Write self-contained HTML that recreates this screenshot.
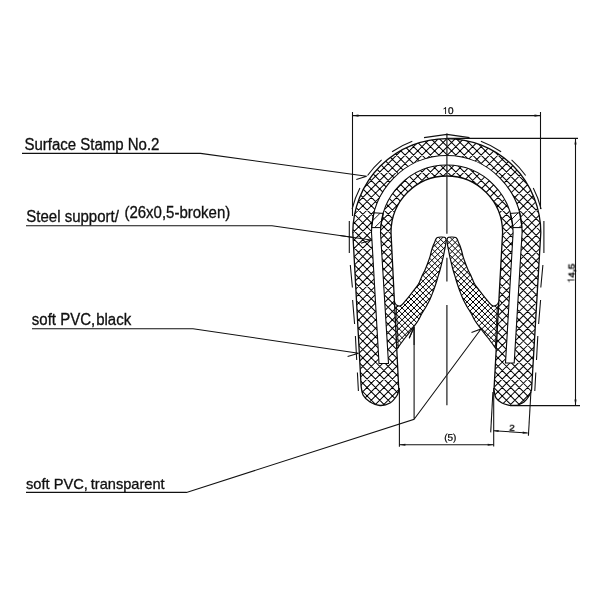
<!DOCTYPE html>
<html><head><meta charset="utf-8"><title>Edge trim profile</title>
<style>
html,body{margin:0;padding:0;background:#fff;}
body{width:600px;height:600px;overflow:hidden;font-family:"Liberation Sans",sans-serif;}
svg{display:block;}
</style></head><body>
<svg width="600" height="600" viewBox="0 0 600 600">
<defs>
<clipPath id="cpB"><path d="M352.8 232.5 A94 94 0 0 1 540.8 232.5 L531.8 386 L531.5 390 C531.08 391 530.25 394 529 396 C527.75 398 526 400.42 524 402 C522 403.58 518.17 404.92 517 405.5 L510 405.5 C508.67 405.08 504.33 404.25 502 403 C499.67 401.75 497.33 400.17 496 398 C494.67 395.83 494.33 391.33 494 390 L502.6 232.5 A55.8 56.5 0 0 0 391 232.5 L398.8 390 C398.5 390.92 398.47 393.33 397 395.5 C395.53 397.67 392.83 401.33 390 403 C387.17 404.67 383.33 405.67 380 405.5 C376.67 405.33 372.83 403.75 370 402 C367.17 400.25 364.48 397.67 363 395 C361.52 392.33 361.42 387.5 361.1 386 Z" clip-rule="nonzero"/></clipPath>
<clipPath id="cpL"><path d="M394.4 301.5 C394.53 301.83 394.78 302.88 395.2 303.5 C395.62 304.12 396.22 304.77 396.9 305.2 C397.58 305.63 398.55 306.1 399.3 306.1 C400.05 306.1 400.73 305.67 401.4 305.2 C402.07 304.73 402.32 304.38 403.3 303.3 C404.28 302.22 405.85 300.47 407.3 298.7 C408.75 296.93 410.43 294.7 412 292.7 C413.57 290.7 415.48 288.4 416.7 286.7 C417.92 285 418.47 284.17 419.3 282.5 C420.13 280.83 420.75 278.78 421.7 276.7 C422.65 274.62 424 272.23 425 270 C426 267.77 426.87 265.52 427.7 263.3 C428.53 261.08 429.33 258.92 430 256.7 C430.67 254.48 431.13 251.95 431.7 250 C432.27 248.05 432.87 246.38 433.4 245 C433.93 243.62 434.52 242.62 434.9 241.7 C435.28 240.78 435.3 240.2 435.7 239.5 C436.1 238.8 436.42 237.92 437.3 237.5 C438.18 237.08 439.8 237.03 441 237 C442.2 236.97 443.7 237.03 444.5 237.3 C445.3 237.57 445.53 237.98 445.8 238.6 C446.07 239.22 446.05 240.6 446.1 241 C445.98 241.83 445.65 244.5 445.4 246 C445.15 247.5 444.95 248.22 444.6 250 C444.25 251.78 443.78 254.48 443.3 256.7 C442.82 258.92 442.25 261.08 441.7 263.3 C441.15 265.52 440.62 267.77 440 270 C439.38 272.23 438.67 274.48 438 276.7 C437.33 278.92 436.75 281 436 283.3 C435.25 285.6 434.5 287.83 433.5 290.5 C432.5 293.17 431.25 296.6 430 299.3 C428.75 302 427.33 304.37 426 306.7 C424.67 309.03 423.25 311.08 422 313.3 C420.75 315.52 419.83 317.8 418.5 320 C417.17 322.2 416.25 323.5 414 326.5 C411.75 329.5 407.87 334.25 405 338 C402.13 341.75 398.17 347.17 396.8 349 Z"/></clipPath>
<clipPath id="cpR"><path d="M498.7 301.5 C498.57 301.83 498.32 302.88 497.9 303.5 C497.48 304.12 496.88 304.77 496.2 305.2 C495.52 305.63 494.55 306.1 493.8 306.1 C493.05 306.1 492.37 305.67 491.7 305.2 C491.03 304.73 490.78 304.38 489.8 303.3 C488.82 302.22 487.25 300.47 485.8 298.7 C484.35 296.93 482.67 294.7 481.1 292.7 C479.53 290.7 477.62 288.4 476.4 286.7 C475.18 285 474.63 284.17 473.8 282.5 C472.97 280.83 472.35 278.78 471.4 276.7 C470.45 274.62 469.1 272.23 468.1 270 C467.1 267.77 466.23 265.52 465.4 263.3 C464.57 261.08 463.77 258.92 463.1 256.7 C462.43 254.48 461.97 251.95 461.4 250 C460.83 248.05 460.23 246.38 459.7 245 C459.17 243.62 458.58 242.62 458.2 241.7 C457.82 240.78 457.8 240.2 457.4 239.5 C457 238.8 456.68 237.92 455.8 237.5 C454.92 237.08 453.3 237.03 452.1 237 C450.9 236.97 449.4 237.03 448.6 237.3 C447.8 237.57 447.57 237.98 447.3 238.6 C447.03 239.22 447.05 240.6 447 241 C447.12 241.83 447.45 244.5 447.7 246 C447.95 247.5 448.15 248.22 448.5 250 C448.85 251.78 449.32 254.48 449.8 256.7 C450.28 258.92 450.85 261.08 451.4 263.3 C451.95 265.52 452.48 267.77 453.1 270 C453.72 272.23 454.43 274.48 455.1 276.7 C455.77 278.92 456.35 281 457.1 283.3 C457.85 285.6 458.6 287.83 459.6 290.5 C460.6 293.17 461.85 296.6 463.1 299.3 C464.35 302 465.77 304.37 467.1 306.7 C468.43 309.03 469.85 311.08 471.1 313.3 C472.35 315.52 473.27 317.8 474.6 320 C475.93 322.2 476.85 323.5 479.1 326.5 C481.35 329.5 485.23 334.25 488.1 338 C490.97 341.75 494.93 347.17 496.3 349 Z"/></clipPath>
<clipPath id="cbL"><path d="M374.01 212.8 L383.39 213.4 L380.67 227.6 L371.65 227.6 Z"/></clipPath>
<clipPath id="cbR"><path d="M519.59 212.8 L510.21 213.4 L512.93 227.6 L521.95 227.6 Z"/></clipPath>
</defs>
<rect width="600" height="600" fill="#fff"/>
<g fill="none" stroke="#111" stroke-width="1.08" stroke-linecap="butt">
<path d="M352.5 112 V216"/>
<path d="M540.5 112 V209"/>
<path d="M352.5 115.6 H540.5"/>
<path d="M447 138.4 H578"/>
<path d="M575.5 138.4 V405.6"/>
<path d="M517 405.6 H580"/>
<path d="M399.4 388 V446.8"/>
<path d="M493.7 388 V446.4"/>
<path d="M399.4 444.7 H493.7"/>
<path d="M492.9 392 L490.7 432.4"/>
<path d="M530.9 392 L528.4 435.8"/>
<path d="M493.6 430.7 L527.7 433"/>
<path d="M22 153.4 H200.5 L366.7 176.3 L356.3 179.4"/>
<path d="M26 225.8 H272 L371 240 L361 243.2"/>
<path d="M32 328.7 H193 L358.6 353.3 L347.6 356.6"/>
<path d="M26 492.4 H186.5 L414.1 419.3 V327 L409.2 338.3 M414.1 419.3 L481 329 L471.5 332.6"/>
</g>
<path d="M352.5 115.6 L358.5 114.55 L358.5 116.65 Z" fill="#111" stroke="none"/>
<path d="M540.5 115.6 L534.5 116.65 L534.5 114.55 Z" fill="#111" stroke="none"/>
<path d="M575.5 138.4 L576.55 144.4 L574.45 144.4 Z" fill="#111" stroke="none"/>
<path d="M575.5 405.6 L574.45 399.6 L576.55 399.6 Z" fill="#111" stroke="none"/>
<path d="M399.4 444.7 L405.4 443.65 L405.4 445.75 Z" fill="#111" stroke="none"/>
<path d="M493.7 444.7 L487.7 445.75 L487.7 443.65 Z" fill="#111" stroke="none"/>
<path d="M493.6 430.7 L498.66 429.99 L498.52 432.08 Z" fill="#111" stroke="none"/>
<path d="M527.7 433 L522.64 433.71 L522.78 431.62 Z" fill="#111" stroke="none"/>
<path d="M352.8 232.5 A94 94 0 0 1 540.8 232.5 L531.8 386 L531.5 390 C531.08 391 530.25 394 529 396 C527.75 398 526 400.42 524 402 C522 403.58 518.17 404.92 517 405.5 L510 405.5 C508.67 405.08 504.33 404.25 502 403 C499.67 401.75 497.33 400.17 496 398 C494.67 395.83 494.33 391.33 494 390 L502.6 232.5 A55.8 56.5 0 0 0 391 232.5 L398.8 390 C398.5 390.92 398.47 393.33 397 395.5 C395.53 397.67 392.83 401.33 390 403 C387.17 404.67 383.33 405.67 380 405.5 C376.67 405.33 372.83 403.75 370 402 C367.17 400.25 364.48 397.67 363 395 C361.52 392.33 361.42 387.5 361.1 386 Z" fill="#fff" stroke="none"/>
<g clip-path="url(#cpB)"><path d="M76.15 408 L348.15 136 M84.6 408 L356.6 136 M93.05 408 L365.05 136 M101.5 408 L373.5 136 M109.95 408 L381.95 136 M118.4 408 L390.4 136 M126.85 408 L398.85 136 M135.3 408 L407.3 136 M143.75 408 L415.75 136 M152.2 408 L424.2 136 M160.65 408 L432.65 136 M169.1 408 L441.1 136 M177.55 408 L449.55 136 M186 408 L458 136 M194.45 408 L466.45 136 M202.9 408 L474.9 136 M211.35 408 L483.35 136 M219.8 408 L491.8 136 M228.25 408 L500.25 136 M236.7 408 L508.7 136 M245.15 408 L517.15 136 M253.6 408 L525.6 136 M262.05 408 L534.05 136 M270.5 408 L542.5 136 M278.95 408 L550.95 136 M287.4 408 L559.4 136 M295.85 408 L567.85 136 M304.3 408 L576.3 136 M312.75 408 L584.75 136 M321.2 408 L593.2 136 M329.65 408 L601.65 136 M338.1 408 L610.1 136 M346.55 408 L618.55 136 M355 408 L627 136 M363.45 408 L635.45 136 M371.9 408 L643.9 136 M380.35 408 L652.35 136 M388.8 408 L660.8 136 M397.25 408 L669.25 136 M405.7 408 L677.7 136 M414.15 408 L686.15 136 M422.6 408 L694.6 136 M431.05 408 L703.05 136 M439.5 408 L711.5 136 M447.95 408 L719.95 136 M456.4 408 L728.4 136 M464.85 408 L736.85 136 M473.3 408 L745.3 136 M481.75 408 L753.75 136 M490.2 408 L762.2 136 M498.65 408 L770.65 136 M507.1 408 L779.1 136 M515.55 408 L787.55 136 M524 408 L796 136 M532.45 408 L804.45 136 M540.9 408 L812.9 136 M549.35 408 L821.35 136 M73.32 136 L345.32 408 M81.77 136 L353.77 408 M90.22 136 L362.22 408 M98.67 136 L370.67 408 M107.12 136 L379.12 408 M115.57 136 L387.57 408 M124.02 136 L396.02 408 M132.47 136 L404.47 408 M140.92 136 L412.92 408 M149.37 136 L421.37 408 M157.82 136 L429.82 408 M166.27 136 L438.27 408 M174.72 136 L446.72 408 M183.17 136 L455.17 408 M191.62 136 L463.62 408 M200.07 136 L472.07 408 M208.52 136 L480.52 408 M216.97 136 L488.97 408 M225.42 136 L497.42 408 M233.87 136 L505.87 408 M242.32 136 L514.32 408 M250.77 136 L522.77 408 M259.22 136 L531.22 408 M267.67 136 L539.67 408 M276.12 136 L548.12 408 M284.57 136 L556.57 408 M293.02 136 L565.02 408 M301.47 136 L573.47 408 M309.92 136 L581.92 408 M318.37 136 L590.37 408 M326.82 136 L598.82 408 M335.27 136 L607.27 408 M343.72 136 L615.72 408 M352.17 136 L624.17 408 M360.62 136 L632.62 408 M369.07 136 L641.07 408 M377.52 136 L649.52 408 M385.97 136 L657.97 408 M394.42 136 L666.42 408 M402.87 136 L674.87 408 M411.32 136 L683.32 408 M419.77 136 L691.77 408 M428.22 136 L700.22 408 M436.67 136 L708.67 408 M445.12 136 L717.12 408 M453.57 136 L725.57 408 M462.02 136 L734.02 408 M470.47 136 L742.47 408 M478.92 136 L750.92 408 M487.37 136 L759.37 408 M495.82 136 L767.82 408 M504.27 136 L776.27 408 M512.72 136 L784.72 408 M521.17 136 L793.17 408 M529.62 136 L801.62 408 M538.07 136 L810.07 408 M546.52 136 L818.52 408" fill="none" stroke="#000" stroke-width="1.02"/></g>
<path d="M379 363.5 L371.5 232.5 A75.3 77 0 0 1 522.1 232.5 L514.2 363 L505.5 363 L513.1 232.5 A66.3 67.5 0 0 0 380.5 232.5 L388.5 363.5 Z" fill="#fff" stroke="#0a0a0a" stroke-width="1.1" stroke-linejoin="round"/>
<g clip-path="url(#cbL)"><path d="M345.5 230 L365.5 210 M354.4 230 L374.4 210 M363.3 230 L383.3 210 M372.2 230 L392.2 210 M381.1 230 L401.1 210 M390 230 L410 210" fill="none" stroke="#000" stroke-width="0.9"/></g>
<g clip-path="url(#cbR)"><path d="M485.4 230 L505.4 210 M493.2 230 L513.2 210 M501 230 L521 210 M508.8 230 L528.8 210 M516.6 230 L536.6 210 M524.4 230 L544.4 210" fill="none" stroke="#000" stroke-width="0.9"/></g>
<path d="M374.01 212.8 L383.39 213.4 L380.67 227.6 L371.65 227.6 Z" fill="none" stroke="#000" stroke-width="1.0"/>
<path d="M519.59 212.8 L510.21 213.4 L512.93 227.6 L521.95 227.6 Z" fill="none" stroke="#000" stroke-width="1.0"/>
<path d="M394.4 301.5 C394.53 301.83 394.78 302.88 395.2 303.5 C395.62 304.12 396.22 304.77 396.9 305.2 C397.58 305.63 398.55 306.1 399.3 306.1 C400.05 306.1 400.73 305.67 401.4 305.2 C402.07 304.73 402.32 304.38 403.3 303.3 C404.28 302.22 405.85 300.47 407.3 298.7 C408.75 296.93 410.43 294.7 412 292.7 C413.57 290.7 415.48 288.4 416.7 286.7 C417.92 285 418.47 284.17 419.3 282.5 C420.13 280.83 420.75 278.78 421.7 276.7 C422.65 274.62 424 272.23 425 270 C426 267.77 426.87 265.52 427.7 263.3 C428.53 261.08 429.33 258.92 430 256.7 C430.67 254.48 431.13 251.95 431.7 250 C432.27 248.05 432.87 246.38 433.4 245 C433.93 243.62 434.52 242.62 434.9 241.7 C435.28 240.78 435.3 240.2 435.7 239.5 C436.1 238.8 436.42 237.92 437.3 237.5 C438.18 237.08 439.8 237.03 441 237 C442.2 236.97 443.7 237.03 444.5 237.3 C445.3 237.57 445.53 237.98 445.8 238.6 C446.07 239.22 446.05 240.6 446.1 241 C445.98 241.83 445.65 244.5 445.4 246 C445.15 247.5 444.95 248.22 444.6 250 C444.25 251.78 443.78 254.48 443.3 256.7 C442.82 258.92 442.25 261.08 441.7 263.3 C441.15 265.52 440.62 267.77 440 270 C439.38 272.23 438.67 274.48 438 276.7 C437.33 278.92 436.75 281 436 283.3 C435.25 285.6 434.5 287.83 433.5 290.5 C432.5 293.17 431.25 296.6 430 299.3 C428.75 302 427.33 304.37 426 306.7 C424.67 309.03 423.25 311.08 422 313.3 C420.75 315.52 419.83 317.8 418.5 320 C417.17 322.2 416.25 323.5 414 326.5 C411.75 329.5 407.87 334.25 405 338 C402.13 341.75 398.17 347.17 396.8 349 Z" fill="#fff" stroke="none"/>
<path d="M498.7 301.5 C498.57 301.83 498.32 302.88 497.9 303.5 C497.48 304.12 496.88 304.77 496.2 305.2 C495.52 305.63 494.55 306.1 493.8 306.1 C493.05 306.1 492.37 305.67 491.7 305.2 C491.03 304.73 490.78 304.38 489.8 303.3 C488.82 302.22 487.25 300.47 485.8 298.7 C484.35 296.93 482.67 294.7 481.1 292.7 C479.53 290.7 477.62 288.4 476.4 286.7 C475.18 285 474.63 284.17 473.8 282.5 C472.97 280.83 472.35 278.78 471.4 276.7 C470.45 274.62 469.1 272.23 468.1 270 C467.1 267.77 466.23 265.52 465.4 263.3 C464.57 261.08 463.77 258.92 463.1 256.7 C462.43 254.48 461.97 251.95 461.4 250 C460.83 248.05 460.23 246.38 459.7 245 C459.17 243.62 458.58 242.62 458.2 241.7 C457.82 240.78 457.8 240.2 457.4 239.5 C457 238.8 456.68 237.92 455.8 237.5 C454.92 237.08 453.3 237.03 452.1 237 C450.9 236.97 449.4 237.03 448.6 237.3 C447.8 237.57 447.57 237.98 447.3 238.6 C447.03 239.22 447.05 240.6 447 241 C447.12 241.83 447.45 244.5 447.7 246 C447.95 247.5 448.15 248.22 448.5 250 C448.85 251.78 449.32 254.48 449.8 256.7 C450.28 258.92 450.85 261.08 451.4 263.3 C451.95 265.52 452.48 267.77 453.1 270 C453.72 272.23 454.43 274.48 455.1 276.7 C455.77 278.92 456.35 281 457.1 283.3 C457.85 285.6 458.6 287.83 459.6 290.5 C460.6 293.17 461.85 296.6 463.1 299.3 C464.35 302 465.77 304.37 467.1 306.7 C468.43 309.03 469.85 311.08 471.1 313.3 C472.35 315.52 473.27 317.8 474.6 320 C475.93 322.2 476.85 323.5 479.1 326.5 C481.35 329.5 485.23 334.25 488.1 338 C490.97 341.75 494.93 347.17 496.3 349 Z" fill="#fff" stroke="none"/>
<g clip-path="url(#cpL)"><path d="M274.7 352 L391.7 235 M280.65 352 L397.65 235 M286.6 352 L403.6 235 M292.55 352 L409.55 235 M298.5 352 L415.5 235 M304.45 352 L421.45 235 M310.4 352 L427.4 235 M316.35 352 L433.35 235 M322.3 352 L439.3 235 M328.25 352 L445.25 235 M334.2 352 L451.2 235 M340.15 352 L457.15 235 M346.1 352 L463.1 235 M352.05 352 L469.05 235 M358 352 L475 235 M363.95 352 L480.95 235 M369.9 352 L486.9 235 M375.85 352 L492.85 235 M381.8 352 L498.8 235 M387.75 352 L504.75 235 M393.7 352 L510.7 235 M399.65 352 L516.65 235 M405.6 352 L522.6 235 M411.55 352 L528.55 235 M417.5 352 L534.5 235 M423.45 352 L540.45 235 M429.4 352 L546.4 235 M435.35 352 L552.35 235 M441.3 352 L558.3 235 M447.25 352 L564.25 235 M453.2 352 L570.2 235 M269.6 235 L386.6 352 M275.55 235 L392.55 352 M281.5 235 L398.5 352 M287.45 235 L404.45 352 M293.4 235 L410.4 352 M299.35 235 L416.35 352 M305.3 235 L422.3 352 M311.25 235 L428.25 352 M317.2 235 L434.2 352 M323.15 235 L440.15 352 M329.1 235 L446.1 352 M335.05 235 L452.05 352 M341 235 L458 352 M346.95 235 L463.95 352 M352.9 235 L469.9 352 M358.85 235 L475.85 352 M364.8 235 L481.8 352 M370.75 235 L487.75 352 M376.7 235 L493.7 352 M382.65 235 L499.65 352 M388.6 235 L505.6 352 M394.55 235 L511.55 352 M400.5 235 L517.5 352 M406.45 235 L523.45 352 M412.4 235 L529.4 352 M418.35 235 L535.35 352 M424.3 235 L541.3 352 M430.25 235 L547.25 352 M436.2 235 L553.2 352 M442.15 235 L559.15 352 M448.1 235 L565.1 352" fill="none" stroke="#000" stroke-width="1.0"/></g>
<g clip-path="url(#cpR)"><path d="M327.8 352 L444.8 235 M333.75 352 L450.75 235 M339.7 352 L456.7 235 M345.65 352 L462.65 235 M351.6 352 L468.6 235 M357.55 352 L474.55 235 M363.5 352 L480.5 235 M369.45 352 L486.45 235 M375.4 352 L492.4 235 M381.35 352 L498.35 235 M387.3 352 L504.3 235 M393.25 352 L510.25 235 M399.2 352 L516.2 235 M405.15 352 L522.15 235 M411.1 352 L528.1 235 M417.05 352 L534.05 235 M423 352 L540 235 M428.95 352 L545.95 235 M434.9 352 L551.9 235 M440.85 352 L557.85 235 M446.8 352 L563.8 235 M452.75 352 L569.75 235 M458.7 352 L575.7 235 M464.65 352 L581.65 235 M470.6 352 L587.6 235 M476.55 352 L593.55 235 M482.5 352 L599.5 235 M488.45 352 L605.45 235 M494.4 352 L611.4 235 M500.35 352 L617.35 235 M506.3 352 L623.3 235 M328.65 235 L445.65 352 M334.6 235 L451.6 352 M340.55 235 L457.55 352 M346.5 235 L463.5 352 M352.45 235 L469.45 352 M358.4 235 L475.4 352 M364.35 235 L481.35 352 M370.3 235 L487.3 352 M376.25 235 L493.25 352 M382.2 235 L499.2 352 M388.15 235 L505.15 352 M394.1 235 L511.1 352 M400.05 235 L517.05 352 M406 235 L523 352 M411.95 235 L528.95 352 M417.9 235 L534.9 352 M423.85 235 L540.85 352 M429.8 235 L546.8 352 M435.75 235 L552.75 352 M441.7 235 L558.7 352 M447.65 235 L564.65 352 M453.6 235 L570.6 352 M459.55 235 L576.55 352 M465.5 235 L582.5 352 M471.45 235 L588.45 352 M477.4 235 L594.4 352 M483.35 235 L600.35 352 M489.3 235 L606.3 352 M495.25 235 L612.25 352 M501.2 235 L618.2 352 M507.15 235 L624.15 352" fill="none" stroke="#000" stroke-width="1.0"/></g>
<path d="M394.4 301.5 C394.53 301.83 394.78 302.88 395.2 303.5 C395.62 304.12 396.22 304.77 396.9 305.2 C397.58 305.63 398.55 306.1 399.3 306.1 C400.05 306.1 400.73 305.67 401.4 305.2 C402.07 304.73 402.32 304.38 403.3 303.3 C404.28 302.22 405.85 300.47 407.3 298.7 C408.75 296.93 410.43 294.7 412 292.7 C413.57 290.7 415.48 288.4 416.7 286.7 C417.92 285 418.47 284.17 419.3 282.5 C420.13 280.83 420.75 278.78 421.7 276.7 C422.65 274.62 424 272.23 425 270 C426 267.77 426.87 265.52 427.7 263.3 C428.53 261.08 429.33 258.92 430 256.7 C430.67 254.48 431.13 251.95 431.7 250 C432.27 248.05 432.87 246.38 433.4 245 C433.93 243.62 434.52 242.62 434.9 241.7 C435.28 240.78 435.3 240.2 435.7 239.5 C436.1 238.8 436.42 237.92 437.3 237.5 C438.18 237.08 439.8 237.03 441 237 C442.2 236.97 443.7 237.03 444.5 237.3 C445.3 237.57 445.53 237.98 445.8 238.6 C446.07 239.22 446.05 240.6 446.1 241 C445.98 241.83 445.65 244.5 445.4 246 C445.15 247.5 444.95 248.22 444.6 250 C444.25 251.78 443.78 254.48 443.3 256.7 C442.82 258.92 442.25 261.08 441.7 263.3 C441.15 265.52 440.62 267.77 440 270 C439.38 272.23 438.67 274.48 438 276.7 C437.33 278.92 436.75 281 436 283.3 C435.25 285.6 434.5 287.83 433.5 290.5 C432.5 293.17 431.25 296.6 430 299.3 C428.75 302 427.33 304.37 426 306.7 C424.67 309.03 423.25 311.08 422 313.3 C420.75 315.52 419.83 317.8 418.5 320 C417.17 322.2 416.25 323.5 414 326.5 C411.75 329.5 407.87 334.25 405 338 C402.13 341.75 398.17 347.17 396.8 349" fill="none" stroke="#0a0a0a" stroke-width="1.2" stroke-linejoin="round"/>
<path d="M498.7 301.5 C498.57 301.83 498.32 302.88 497.9 303.5 C497.48 304.12 496.88 304.77 496.2 305.2 C495.52 305.63 494.55 306.1 493.8 306.1 C493.05 306.1 492.37 305.67 491.7 305.2 C491.03 304.73 490.78 304.38 489.8 303.3 C488.82 302.22 487.25 300.47 485.8 298.7 C484.35 296.93 482.67 294.7 481.1 292.7 C479.53 290.7 477.62 288.4 476.4 286.7 C475.18 285 474.63 284.17 473.8 282.5 C472.97 280.83 472.35 278.78 471.4 276.7 C470.45 274.62 469.1 272.23 468.1 270 C467.1 267.77 466.23 265.52 465.4 263.3 C464.57 261.08 463.77 258.92 463.1 256.7 C462.43 254.48 461.97 251.95 461.4 250 C460.83 248.05 460.23 246.38 459.7 245 C459.17 243.62 458.58 242.62 458.2 241.7 C457.82 240.78 457.8 240.2 457.4 239.5 C457 238.8 456.68 237.92 455.8 237.5 C454.92 237.08 453.3 237.03 452.1 237 C450.9 236.97 449.4 237.03 448.6 237.3 C447.8 237.57 447.57 237.98 447.3 238.6 C447.03 239.22 447.05 240.6 447 241 C447.12 241.83 447.45 244.5 447.7 246 C447.95 247.5 448.15 248.22 448.5 250 C448.85 251.78 449.32 254.48 449.8 256.7 C450.28 258.92 450.85 261.08 451.4 263.3 C451.95 265.52 452.48 267.77 453.1 270 C453.72 272.23 454.43 274.48 455.1 276.7 C455.77 278.92 456.35 281 457.1 283.3 C457.85 285.6 458.6 287.83 459.6 290.5 C460.6 293.17 461.85 296.6 463.1 299.3 C464.35 302 465.77 304.37 467.1 306.7 C468.43 309.03 469.85 311.08 471.1 313.3 C472.35 315.52 473.27 317.8 474.6 320 C475.93 322.2 476.85 323.5 479.1 326.5 C481.35 329.5 485.23 334.25 488.1 338 C490.97 341.75 494.93 347.17 496.3 349" fill="none" stroke="#0a0a0a" stroke-width="1.2" stroke-linejoin="round"/>
<path d="M396.3 305.8 L398.3 348.2 M497.3 305.8 L495.3 348.2" fill="none" stroke="#0a0a0a" stroke-width="0.9"/>
<path d="M352.8 232.5 A94 94 0 0 1 540.8 232.5 L531.8 386 L531.5 390 C531.08 391 530.25 394 529 396 C527.75 398 526 400.42 524 402 C522 403.58 518.17 404.92 517 405.5 L510 405.5 C508.67 405.08 504.33 404.25 502 403 C499.67 401.75 497.33 400.17 496 398 C494.67 395.83 494.33 391.33 494 390 L502.6 232.5 A55.8 56.5 0 0 0 391 232.5 L398.8 390 C398.5 390.92 398.47 393.33 397 395.5 C395.53 397.67 392.83 401.33 390 403 C387.17 404.67 383.33 405.67 380 405.5 C376.67 405.33 372.83 403.75 370 402 C367.17 400.25 364.48 397.67 363 395 C361.52 392.33 361.42 387.5 361.1 386 Z" fill="none" stroke="#0a0a0a" stroke-width="1.3" stroke-linejoin="round"/>
<path d="M446.9 133.5 V233.7 M446.9 257.7 V281.6 M446.9 305 V405.2" fill="none" stroke="#262626" stroke-width="1.25"/>
<g fill="none" stroke="#111" stroke-width="1.08">
<path d="M424 137.6 L447 134.4 L469.5 137.6"/>
<path d="M412.3 141.2 A97.6 97.6 0 0 0 392.08 151.68 M381.62 159.86 A97.6 97.6 0 0 0 367.54 175.55 M359.92 188.04 A97.6 97.6 0 0 0 352.06 209.05 M349.3 221 L349.3 253 M350.3 265 L352.4 287.5 M352.6 300 L354.6 324 M355.4 336 L356.7 360 M357.4 372.5 L358.4 391"/>
<path d="M412.3 141.2 A97.6 97.6 0 0 0 392.08 151.68 M381.62 159.86 A97.6 97.6 0 0 0 367.54 175.55 M359.92 188.04 A97.6 97.6 0 0 0 352.06 209.05 M349.3 221 L349.3 253 M350.3 265 L352.4 287.5 M352.6 300 L354.6 324 M355.4 336 L356.7 360 M357.4 372.5 L358.4 391" transform="translate(893.2 0) scale(-1 1)"/>
</g>
<g fill="none" stroke="#111" stroke-width="1.08">
<path d="M340 235.5 L371 240 L361 243.2"/>
<path d="M414.1 345 V327 L409.2 338.3"/>
</g>
<g font-family="'Liberation Sans', sans-serif" fill="#101010" stroke="#101010" stroke-width="0.3" opacity="0.999">
<text transform="translate(24.4 149.6) scale(1 1.04)" font-size="15">Surface Stamp No.2</text>
<text transform="translate(26.3 221.6) scale(1 1.04)" font-size="15">Steel support/</text>
<text transform="translate(124.4 218.2) scale(1 1.04)" font-size="15">(26x0,5-broken)</text>
<text transform="translate(31.8 325.3) scale(1 1.04)" font-size="15">soft PVC,</text>
<text transform="translate(96.2 325.3) scale(1 1.04)" font-size="15">black</text>
<text transform="translate(25.9 488.6) scale(1 1.04)" font-size="14.7">soft PVC,</text>
<text transform="translate(90.8 488.6) scale(1 1.04)" font-size="14.6">transparent</text>
</g>
<g font-family="'Liberation Sans', sans-serif" fill="#080808" stroke="#080808" stroke-width="0.25" opacity="0.999">
<g transform="translate(447.9 113.9) rotate(0.05) scale(1 0.97)"><path transform="translate(-5.56 0) scale(10 -10)" d="M0.3726 0H0.2847V0.56Q0.2529 0.5298 0.2017 0.4995Q0.1499 0.4692 0.1089 0.4541V0.5391Q0.1826 0.5737 0.2378 0.623Q0.293 0.6724 0.3159 0.7188H0.3726Z" stroke="none"/><text x="0" y="0" font-size="10">0</text></g>
<g transform="translate(450.3 440.8) rotate(0.05) scale(1 0.97)"><text x="-6.11" y="0" font-size="10">(5)</text></g>
<g transform="translate(511.8 430.8) rotate(3.8) scale(1 1)" stroke-width="0.4"><text x="-2.75" y="0" font-size="9.9">2</text></g>
<g transform="translate(574.3 273.5) rotate(-90) scale(1 0.97)" stroke-width="0.45"><path transform="translate(-9.73 0) scale(10 -10)" d="M0.3726 0H0.2847V0.56Q0.2529 0.5298 0.2017 0.4995Q0.1499 0.4692 0.1089 0.4541V0.5391Q0.1826 0.5737 0.2378 0.623Q0.293 0.6724 0.3159 0.7188H0.3726Z" stroke="none"/><text x="-4.17" y="0" font-size="10">4,5</text></g>
</g>
</svg>
</body></html>
